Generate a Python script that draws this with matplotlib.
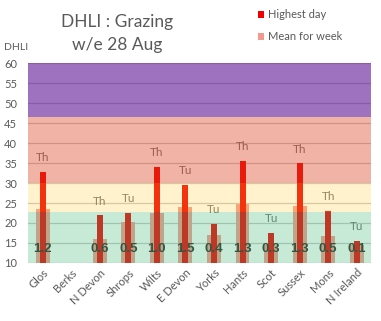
import matplotlib
matplotlib.use("Agg")
import matplotlib.pyplot as plt
import numpy as np

plt.rcParams['font.family'] = ['Lato', 'DejaVu Sans']

regions = ["Glos", "Berks", "N Devon", "Shrops", "Wilts", "E Devon", "Yorks",
           "Hants", "Scot", "Sussex", "Mons", "N Ireland"]
highest_day = [32.8, np.nan, 22.0, 22.6, 34.1, 29.6, 19.8, 35.6, 17.6, 34.9, 23.1, 15.6]
mean_week = [23.5, np.nan, 16.1, 20.3, 22.6, 24.0, 17.0, 24.7, 14.5, 24.3, 16.8, 14.5]
peak_day = ["Th", "", "Th", "Tu", "Th", "Tu", "Tu", "Th", "Tu", "Th", "Th", "Tu"]
bottom_vals = ["1.2", "", "0.6", "0.5", "1.0", "1.5", "0.4", "1.3", "0.3", "1.3", "0.5", "0.1"]

# risk bands (lower, upper)
band_edges = [10, 22.8, 30, 46.4, 60]
band_colors = [(72/255, 188/255, 125/255), (1.0, 204/255, 52/255),
               (222/255, 67/255, 32/255), (93/255, 20/255, 147/255)]
band_alpha = [0.30, 0.25, 0.40, 0.60]

fig = plt.figure(figsize=(3.81, 3.21), dpi=100)
ax = fig.add_axes([0.0743, 0.1807, 0.8995, 0.623])

x = np.arange(len(regions))
ax.set_xlim(-0.5, len(regions) - 0.5)
ax.set_ylim(10, 60)

ax.set_axisbelow(True)
ax.yaxis.grid(True, color='#C8C8C8', linewidth=0.9)
ax.set_yticks(np.arange(10, 61, 5))

ax.bar(x, np.array(mean_week) - 10, bottom=10, width=0.49, color='#F29A90',
       zorder=1, label='Mean for week')
ax.bar(x, np.array(highest_day) - 10, bottom=10, width=0.21, color='#F00000',
       zorder=1.1, label='Highest day')

for i in range(len(regions)):
    if peak_day[i]:
        ax.text(x[i], highest_day[i] + 3.5, peak_day[i], ha='center', va='center',
                fontsize=8.5, color='#707070', zorder=1.5)
    if bottom_vals[i]:
        ax.text(x[i], 13.6, bottom_vals[i], ha='center', va='center',
                fontsize=9.5, fontweight='bold', color='#2A2A2A', zorder=1.5,
                family=['Liberation Sans', 'DejaVu Sans'])

for k in range(len(band_colors)):
    ax.axhspan(band_edges[k], band_edges[k + 1], color=band_colors[k],
               alpha=band_alpha[k], linewidth=0, zorder=2)

for s in ax.spines.values():
    s.set_visible(False)
ax.tick_params(axis='both', length=0, colors='#595959', labelsize=8)
ax.tick_params(axis='y', pad=8)
ax.set_xticks(x)
ax.set_xticklabels(regions, rotation=45, ha='right', rotation_mode='anchor')
ax.tick_params(axis='x', pad=3)

fig.text(0.307, 0.93, "DHLI : Grazing", ha='center', va='center',
         fontsize=12.5, color='#595959')
fig.text(0.307, 0.86, "w/e 28 Aug", ha='center', va='center',
         fontsize=12.5, color='#595959')
fig.text(0.042, 0.853, "DHLI", ha='center', va='center', fontsize=7.5, color='#595959')

handles, labels = ax.get_legend_handles_labels()
order = [1, 0]
fig.legend([handles[i] for i in order], [labels[i] for i in order],
           loc='upper left', bbox_to_anchor=(0.665, 0.985), frameon=False,
           fontsize=8, labelcolor='#595959', handlelength=0.6, handleheight=0.6,
           handletextpad=0.35, labelspacing=1.0, borderaxespad=0)

fig.savefig("out.png", dpi=100)
